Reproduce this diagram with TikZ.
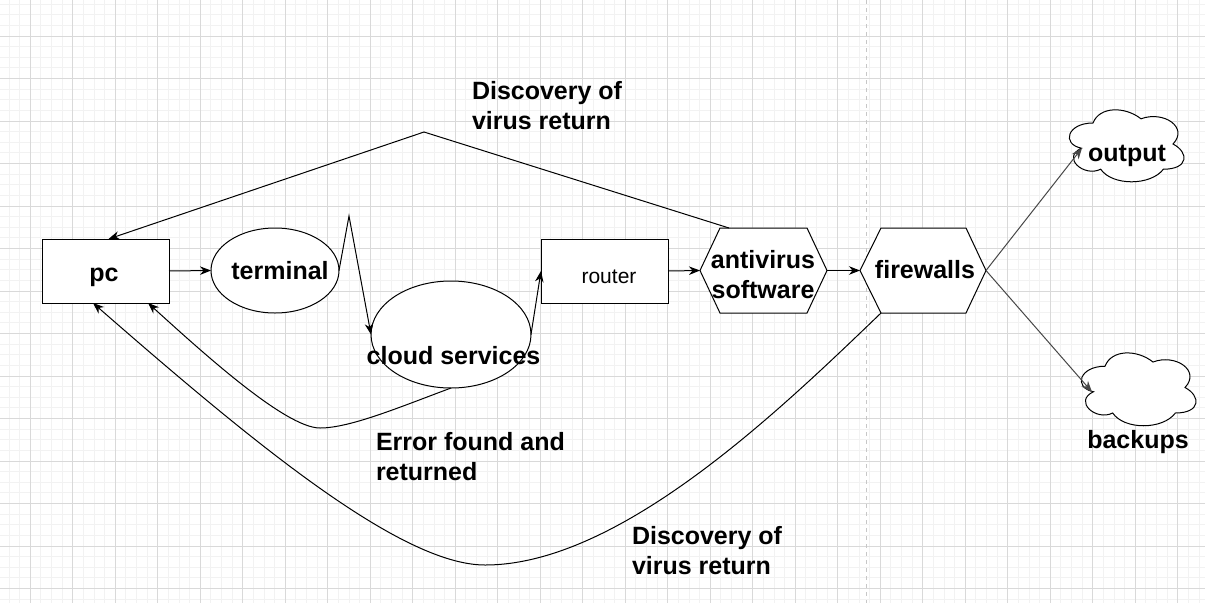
\documentclass[tikz,border=0pt]{standalone}
\usepackage{fontspec}
\setmainfont{Liberation Sans}
\usetikzlibrary{shapes.geometric,arrows.meta,calc}
\begin{document}
\begin{tikzpicture}[x=1pt,y=-1pt,
  every node/.style={inner sep=0pt, outer sep=0pt},
  txt/.style={font=\fontsize{25}{30}\selectfont\bfseries, text=black},
  rtxt/.style={font=\fontsize{21}{25}\selectfont, text=black},
  boxn/.style={draw=black, line width=1pt, fill=white, rectangle},
  ell/.style={draw=black, line width=1pt, fill=white, ellipse},
  hexline/.style={draw=black, line width=1pt, fill=white},
  ghost/.style={rectangle, draw=none},
  tip/.style={-{Stealth[length=11pt,width=8.5pt,inset=3.5pt]}},
  conn/.style={draw=black, line width=1pt, tip},
  grayconn/.style={draw=black!72, line width=1pt, tip},
  minorg/.style={draw=black!5, line width=0.9pt},
  majorg/.style={draw=black!15, line width=0.9pt},
  lbl/.style={txt, anchor=base west, align=left}
]
\useasboundingbox (0,0) rectangle (1205,603);
\fill[white] (0,0) rectangle (1205,603);
% grid
\begin{scope}
\clip (0,0) rectangle (1205,603);
\foreach \i in {-3,...,113} \draw[minorg] ({30.3+\i*10.625},0) -- ++(0,603);
\foreach \j in {-4,...,54} \draw[minorg] (0,{36+\j*10.625}) -- ++(1205,0);
\foreach \i in {-1,...,28} \draw[majorg] ({30.3+\i*42.5},0) -- ++(0,603);
\foreach \j in {-1,...,13} \draw[majorg] (0,{36+\j*42.5}) -- ++(1205,0);
\end{scope}
% dashed divider
\draw[draw=black!22, line width=1pt, dash pattern=on 4pt off 4pt] (866.7,0) -- (866.7,603);

% shapes
\node[boxn, minimum width=127, minimum height=64] (pc) at (105.5,271) {};
\node[ell, minimum width=128, minimum height=85] (term) at (275,270.5) {};
\node[ell, minimum width=160, minimum height=107] (cloud) at (451,334.5) {};
\node[boxn, minimum width=127, minimum height=64] (router) at (604.5,271) {};
\node[ghost, minimum width=127, minimum height=85] (av) at (763.5,270.5) {};
\node[ghost, minimum width=126, minimum height=85] (fw) at (923,270.5) {};
\node[ghost, minimum width=128, minimum height=84] (outC) at (1125,144) {};
\node[ghost, minimum width=128, minimum height=85] (bkC) at (1137,387.5) {};

\draw[hexline] (av.west) -- ([xshift=20]av.north west) -- ([xshift=-20]av.north east) -- (av.east) -- ([xshift=-20]av.south east) -- ([xshift=20]av.south west) -- cycle;
\draw[hexline] (fw.west) -- ([xshift=21]fw.north west) -- ([xshift=-20]fw.north east) -- (fw.east) -- ([xshift=-20]fw.south east) -- ([xshift=21]fw.south west) -- cycle;

\begin{scope}[shift={(outC.north west)}, x=128pt, y=-84pt]
\draw[line width=1pt, fill=white] (0.25,0.25) .. controls (0.05,0.25) and (0,0.5) .. (0.16,0.55)
  .. controls (0,0.66) and (0.18,0.9) .. (0.31,0.8)
  .. controls (0.4,1) and (0.7,1) .. (0.8,0.8)
  .. controls (1,0.8) and (1,0.6) .. (0.875,0.5)
  .. controls (1,0.3) and (0.8,0.1) .. (0.625,0.2)
  .. controls (0.5,0.05) and (0.3,0.05) .. (0.25,0.25) -- cycle;
\end{scope}
\begin{scope}[shift={(bkC.north west)}, x=128pt, y=-85pt]
\draw[line width=1pt, fill=white] (0.25,0.25) .. controls (0.05,0.25) and (0,0.5) .. (0.16,0.55)
  .. controls (0,0.66) and (0.18,0.9) .. (0.31,0.8)
  .. controls (0.4,1) and (0.7,1) .. (0.8,0.8)
  .. controls (1,0.8) and (1,0.6) .. (0.875,0.5)
  .. controls (1,0.3) and (0.8,0.1) .. (0.625,0.2)
  .. controls (0.5,0.05) and (0.3,0.05) .. (0.25,0.25) -- cycle;
\end{scope}

% connectors
\coordinate (zz) at (349,216);
\coordinate (avT) at (729,228);
\coordinate (peak) at (424,132);
\coordinate (errLow) at (320,428);
\coordinate (bigLow) at (485,565);
\coordinate (outA) at (1082,148);
\coordinate (bkA) at (1092,392);

\draw[conn] (pc.east) -- (term.west);
\draw[conn] (term.east) -- (zz) -- (cloud.west);
\draw[conn] (cloud.east) -- (router.west);
\draw[conn] (router.east) -- (av.west);
\draw[conn] (av.east) -- (fw.west);
\draw[grayconn] (fw.east) -- (outA);
\draw[grayconn] (fw.east) -- (bkA);
\draw[conn] (avT) -- (peak) -- ([xshift=3]pc.north);
\draw[conn] (cloud.south) .. controls (400,407) and (350,428) .. (errLow)
  .. controls (285,428) and (200,350) .. ([xshift=42.5]pc.south);
\draw[conn] ([xshift=21]fw.south west) .. controls (780,410) and (620,565) .. (bigLow)
  .. controls (400,565) and (250,440) .. ([xshift=-12.5]pc.south);

% texts
\node[txt, anchor=base] (pcT) at (104,281) {pc};
\node[txt, anchor=base] (termT) at (280,279) {terminal};
\node[txt, anchor=base] (cloudT) at (453.5,364) {cloud services};
\node[rtxt, anchor=base] (routerT) at (609,283) {router};
\node[txt, anchor=base, align=center] (avText) at (763,298) {antivirus\\software};
\node[txt, anchor=base] (fwT) at (925,278.3) {firewalls};
\node[txt, anchor=base] (outT) at (1127,161.5) {output};
\node[txt, anchor=base] (bkT) at (1138,448) {backups};
\node[lbl] (topL) at (472,129) {Discovery of\\virus return};
\node[lbl] (errL) at (376,480) {Error found and\\returned};
\node[lbl] (botL) at (632,574) {Discovery of\\virus return};
\end{tikzpicture}
\end{document}
